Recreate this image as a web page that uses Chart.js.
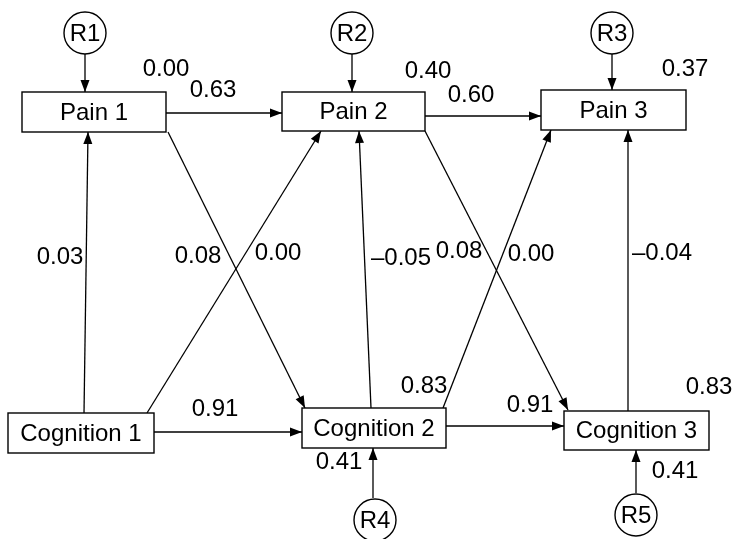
<!DOCTYPE html>
<html>
<head>
<meta charset="utf-8">
<script src="https://cdn.jsdelivr.net/npm/chart.js@4.4.1/dist/chart.umd.min.js"></script>
<style>
html,body{margin:0;padding:0;background:#fff;}
canvas{display:block;}
</style>
</head>
<body>
<canvas id="c" width="735" height="539"></canvas>
<script>
// Observed variables (boxes): name, left, top, right, bottom in diagram units
const nodeNames = ["Pain 1", "Pain 2", "Pain 3", "Cognition 1", "Cognition 2", "Cognition 3"];
const nodeLeft   = [22, 282, 541, 8, 302, 564];
const nodeTop    = [92, 92, 90, 413, 408, 411];
const nodeRight  = [166, 425, 686, 154, 446, 709];
const nodeBottom = [132, 131, 130, 453, 448, 450];

// Residual terms (circles)
const residNames = ["R1", "R2", "R3", "R4", "R5"];
const residX = [85, 352, 612, 375, 636];
const residY = [33, 33, 33, 520, 515];
const residR = 21;

// Paths (start -> end, arrowhead at end)
const pathX1 = [85, 352, 612, 373, 636, 166, 425, 154, 446, 84, 147, 168, 371, 425, 443, 628];
const pathY1 = [54, 54, 54, 498, 493, 113, 116, 432, 426, 413, 413, 132, 408, 131, 408, 411];
const pathX2 = [85, 352, 612, 373, 636, 282, 541, 302, 564, 88, 321, 305, 359, 568, 551, 628];
const pathY2 = [92, 92, 90, 448, 450, 113, 116, 432, 426, 132, 131, 408, 131, 410, 130, 130];

// Coefficient labels
const coefText = ["0.00", "0.63", "0.40", "0.60", "0.37", "0.03", "0.08", "0.00", "\u20130.05", "0.08", "0.00", "\u20130.04", "0.83", "0.91", "0.91", "0.83", "0.41", "0.41"];
const coefX = [166, 213, 428, 471, 685, 60, 198, 278, 401, 459, 531, 662, 424, 215, 530, 709, 339, 675];
const coefY = [68, 89, 70, 94, 68, 256, 255, 252, 257, 250, 253, 252, 385, 408, 404, 386, 461, 470];

const FONT = '24px "Liberation Sans", Arial, sans-serif';

const datasets = pathX1.map((x, i) => ({
  data: [{x: x, y: pathY1[i]}, {x: pathX2[i], y: pathY2[i]}],
  showLine: true,
  borderColor: '#000',
  borderWidth: 1.3,
  pointRadius: 0,
  pointHoverRadius: 0,
  fill: false
}));

const diagramPlugin = {
  id: 'diagram',
  afterDatasetsDraw(chart) {
    const ctx = chart.ctx;
    const sx = chart.scales.x, sy = chart.scales.y;
    const px = v => sx.getPixelForValue(v);
    const py = v => sy.getPixelForValue(v);
    ctx.save();
    // arrowheads
    ctx.fillStyle = '#000';
    pathX1.forEach((x, i) => {
      const x1 = px(x), y1 = py(pathY1[i]), x2 = px(pathX2[i]), y2 = py(pathY2[i]);
      const a = Math.atan2(y2 - y1, x2 - x1);
      const L = 12, W = 4.5;
      ctx.beginPath();
      ctx.moveTo(x2, y2);
      ctx.lineTo(x2 - L * Math.cos(a) + W * Math.sin(a), y2 - L * Math.sin(a) - W * Math.cos(a));
      ctx.lineTo(x2 - L * Math.cos(a) - W * Math.sin(a), y2 - L * Math.sin(a) + W * Math.cos(a));
      ctx.closePath();
      ctx.fill();
    });
    // boxes
    ctx.strokeStyle = '#000';
    ctx.lineWidth = 1.4;
    ctx.font = FONT;
    ctx.textAlign = 'center';
    ctx.textBaseline = 'middle';
    nodeNames.forEach((n, i) => {
      const l = px(nodeLeft[i]), t = py(nodeTop[i]), r = px(nodeRight[i]), b = py(nodeBottom[i]);
      ctx.fillStyle = '#fff';
      ctx.fillRect(l, t, r - l, b - t);
      ctx.strokeRect(l, t, r - l, b - t);
      ctx.fillStyle = '#000';
      ctx.fillText(n, (l + r) / 2, (t + b) / 2 + 1);
    });
    // residual circles
    residNames.forEach((n, i) => {
      const cx = px(residX[i]), cy = py(residY[i]);
      const rr = Math.abs(px(residR) - px(0));
      ctx.beginPath();
      ctx.arc(cx, cy, rr, 0, Math.PI * 2);
      ctx.fillStyle = '#fff';
      ctx.fill();
      ctx.stroke();
      ctx.fillStyle = '#000';
      ctx.fillText(n, cx, cy + 1);
    });
    // coefficients
    coefText.forEach((t, i) => {
      ctx.fillText(t, px(coefX[i]), py(coefY[i]) + 1);
    });
    ctx.restore();
  }
};

new Chart(document.getElementById('c'), {
  type: 'scatter',
  data: { datasets },
  options: {
    responsive: false,
    devicePixelRatio: 1,
    animation: false,
    layout: { padding: 0 },
    plugins: { legend: { display: false }, tooltip: { enabled: false } },
    events: [],
    scales: {
      x: { type: 'linear', min: 0, max: 735, display: false },
      y: { type: 'linear', min: 0, max: 539, reverse: true, display: false }
    }
  },
  plugins: [diagramPlugin]
});
</script>
</body>
</html>
